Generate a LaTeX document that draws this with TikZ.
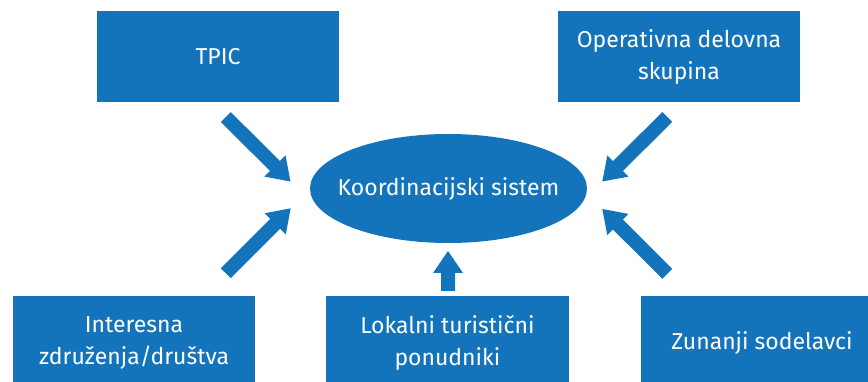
\documentclass[tikz,border=0pt]{standalone}
\usepackage{fontspec}
\setmainfont{Fira Sans}
\usetikzlibrary{calc,shapes.geometric}
\definecolor{blu}{HTML}{1374BB}
\tikzset{
  box/.style={rectangle, fill=blu, text=white, inner sep=0pt, align=center,
    font=\fontsize{23}{32}\selectfont},
  ell/.style={ellipse, fill=blu, inner sep=0pt},
  elltext/.style={text=white, inner sep=0pt, font=\fontsize{23}{32}\selectfont},
  fatarrow/.style={fill=blu}
}
\newcommand{\blockarrow}[2]{%
  \coordinate (hb) at ($(#2)!22pt!(#1)$);
  \fill[fatarrow] ($(#1)!7pt!90:(#2)$) -- ($(hb)!7pt!90:(#2)$) -- ($(hb)!15pt!90:(#2)$)
    -- (#2) -- ($(hb)!15pt!-90:(#2)$) -- ($(hb)!7pt!-90:(#2)$) -- ($(#1)!7pt!-90:(#2)$) -- cycle;}
\begin{document}
\begin{tikzpicture}[x=1pt,y=-1pt]
\useasboundingbox (0,0) rectangle (868,382);
\begin{scope}
\clip (0,0) rectangle (868,382);
\node[box, minimum width=242pt, minimum height=91pt] (tpic) at (218,56.5) {TPIC};
\node[box, minimum width=242pt, minimum height=91pt] (oper) at (679,56.5) {Operativna delovna\\skupina};
\node[ell, minimum width=277pt, minimum height=109pt,
  label={[elltext]center:Koordinacijski sistem}] (ks) at (448.5,188.5) {};
\node[box, minimum width=242pt, minimum height=94pt] (inter) at (134,343) {Interesna\\združenja/društva};
\node[box, minimum width=243pt, minimum height=94pt] (lok) at (447.5,343) {Lokalni turistični\\ponudniki};
\node[box, minimum width=242pt, minimum height=94pt] (zun) at (762,343) {Zunanji sodelavci};
\end{scope}
\coordinate (a1s) at (225.8,117);   \coordinate (a1e) at (290.5,181.5);
\coordinate (a2s) at (225.8,273.3); \coordinate (a2e) at (290.7,208.3);
\coordinate (a3s) at (448,291);     \coordinate (a3e) at (448,251);
\coordinate (a4s) at (667.3,117);   \coordinate (a4e) at (602.3,181.5);
\coordinate (a5s) at (667.3,273.8); \coordinate (a5e) at (602.3,209);
\blockarrow{a1s}{a1e}
\blockarrow{a2s}{a2e}
\blockarrow{a3s}{a3e}
\blockarrow{a4s}{a4e}
\blockarrow{a5s}{a5e}
\end{tikzpicture}
\end{document}
